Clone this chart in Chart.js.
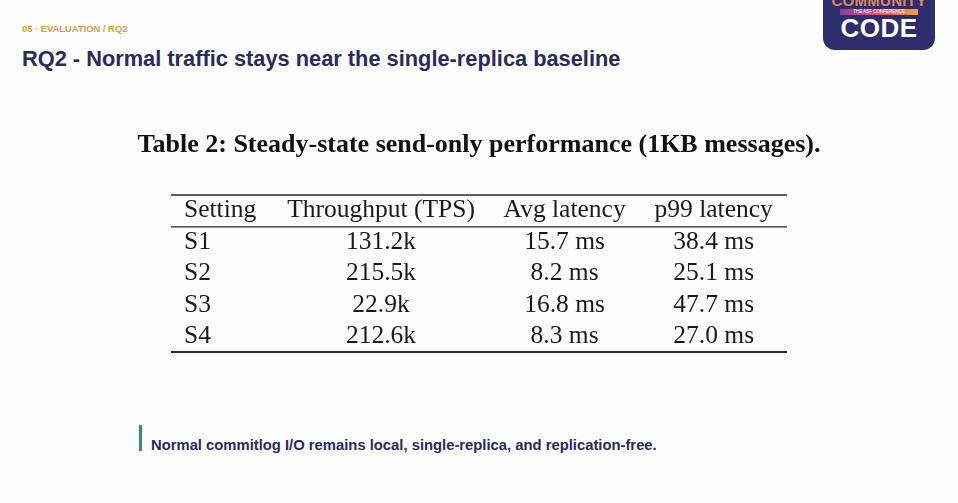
<!DOCTYPE html>
<html><head><meta charset="utf-8">
<script src="https://cdn.jsdelivr.net/npm/chart.js@4/dist/chart.umd.min.js"></script>
<style>
html,body{margin:0;padding:0;background:#fdfdfe;width:958px;height:503px;overflow:hidden;font-family:"Liberation Sans",Arial,sans-serif;}
#kicker{position:absolute;left:22px;top:23px;font-size:9.4px;font-weight:bold;color:#e39a3c;}
#head{position:absolute;left:22px;top:46px;font-size:21.8px;font-weight:bold;color:#2b2a5e;}
#logo{position:absolute;left:823px;top:-14px;width:112px;height:64px;background:#2f2c6e;border-radius:12px;overflow:hidden;text-align:center;}
#logo .c1{position:absolute;left:0;right:0;top:6px;font-size:15px;font-weight:bold;color:#d9895a;letter-spacing:0.3px;}
#logo .band{position:absolute;left:17px;right:17px;top:23px;height:6px;background:linear-gradient(90deg,#8a3f9a,#e0557a,#f0a040);font-size:4.5px;line-height:6px;color:#fff;}
#logo .c2{position:absolute;left:0;right:0;top:27px;font-size:26px;font-weight:bold;color:#ffffff;letter-spacing:0.5px;}
#wrap{position:absolute;left:0;top:100px;width:958px;height:280px;}
#bar{position:absolute;left:139px;top:425px;width:3px;height:26px;background:#3d8c73;}
#note{position:absolute;left:151px;top:437px;font-size:14.8px;font-weight:bold;color:#2b2a5e;}
</style></head>
<body>
<div id="kicker">05 · EVALUATION / RQ2</div>
<div id="head">RQ2 - Normal traffic stays near the single-replica baseline</div>
<div id="logo"><div class="c1">COMMUNITY</div><div class="band">THE ASF CONFERENCE</div><div class="c2">CODE</div></div>
<div id="wrap"><canvas id="c"></canvas></div>
<div id="bar"></div>
<div id="note">Normal commitlog I/O remains local, single-replica, and replication-free.</div>
<script>
const caption = 'Table 2: Steady-state send-only performance (1KB messages).';
const columns = ['Setting', 'Throughput (TPS)', 'Avg latency', 'p99 latency'];
const settings = ['S1', 'S2', 'S3', 'S4'];
const throughputK = [131.2, 215.5, 22.9, 212.6];
const avgLatencyMs = [15.7, 8.2, 16.8, 8.3];
const p99LatencyMs = [38.4, 25.1, 47.7, 27.0];

const SERIF = '"Liberation Serif","Times New Roman",serif';

const tablePlugin = {
  id: 'tabular',
  afterDraw(chart, args, opts) {
    const ctx = chart.ctx;
    const area = chart.chartArea;
    const y = chart.scales.y;
    const left = area.left + opts.inset;
    const right = area.right - opts.inset;
    const w = right - left;
    const colX = opts.colX.map(f => left + f * w);
    const align = opts.align;
    ctx.save();
    ctx.fillStyle = '#1a1a1a';
    ctx.font = opts.fontSize + 'px ' + SERIF;
    ctx.textBaseline = 'middle';
    const labels = chart.data.labels;
    const hy = y.getPixelForValue(0);
    columns.forEach((c, i) => {
      ctx.textAlign = align[i];
      ctx.fillText(c, colX[i], hy);
    });
    for (let r = 1; r < labels.length; r++) {
      const py = y.getPixelForValue(r);
      ctx.textAlign = align[0];
      ctx.fillText(labels[r], colX[0], py);
      chart.data.datasets.forEach((ds, k) => {
        const v = ds.data[r];
        ctx.textAlign = align[k + 1];
        ctx.fillText(v.toFixed(1) + ds.suffix, colX[k + 1], py);
      });
    }
    ctx.strokeStyle = '#2a2a2a';
    const rule = (py, lw) => {
      ctx.lineWidth = lw;
      ctx.beginPath();
      ctx.moveTo(left, py);
      ctx.lineTo(right, py);
      ctx.stroke();
    };
    const band = (y.getPixelForValue(1) - y.getPixelForValue(0));
    rule(area.top, 1.6);
    rule(hy + band / 2 + 0.5, 1.4);
    rule(area.bottom, 2.2);
    ctx.restore();
  }
};

new Chart(document.getElementById('c'), {
  type: 'bar',
  data: {
    labels: [columns[0], ...settings],
    datasets: [
      { label: columns[1], suffix: 'k', data: [null, ...throughputK], backgroundColor: 'rgba(0,0,0,0)' },
      { label: columns[2], suffix: ' ms', data: [null, ...avgLatencyMs], backgroundColor: 'rgba(0,0,0,0)' },
      { label: columns[3], suffix: ' ms', data: [null, ...p99LatencyMs], backgroundColor: 'rgba(0,0,0,0)' }
    ]
  },
  options: {
    indexAxis: 'y',
    responsive: true,
    maintainAspectRatio: false,
    animation: false,
    events: [],
    layout: { padding: { left: 0, right: 0, top: 0, bottom: 28 } },
    scales: {
      x: { display: false, stacked: true },
      y: { display: false, stacked: true, offset: true }
    },
    plugins: {
      legend: { display: false },
      tooltip: { enabled: false },
      title: {
        display: true,
        text: caption,
        color: '#111',
        font: { family: SERIF, size: 26, weight: 'bold', lineHeight: 1.2 },
        padding: { top: 29.2, bottom: 34.6 }
      },
      tabular: {
        inset: 171,
        fontSize: 25.5,
        colX: [0.0211, 0.341, 0.639, 0.881],
        align: ['left', 'center', 'center', 'center']
      }
    }
  },
  plugins: [tablePlugin]
});
</script>
</body></html>
